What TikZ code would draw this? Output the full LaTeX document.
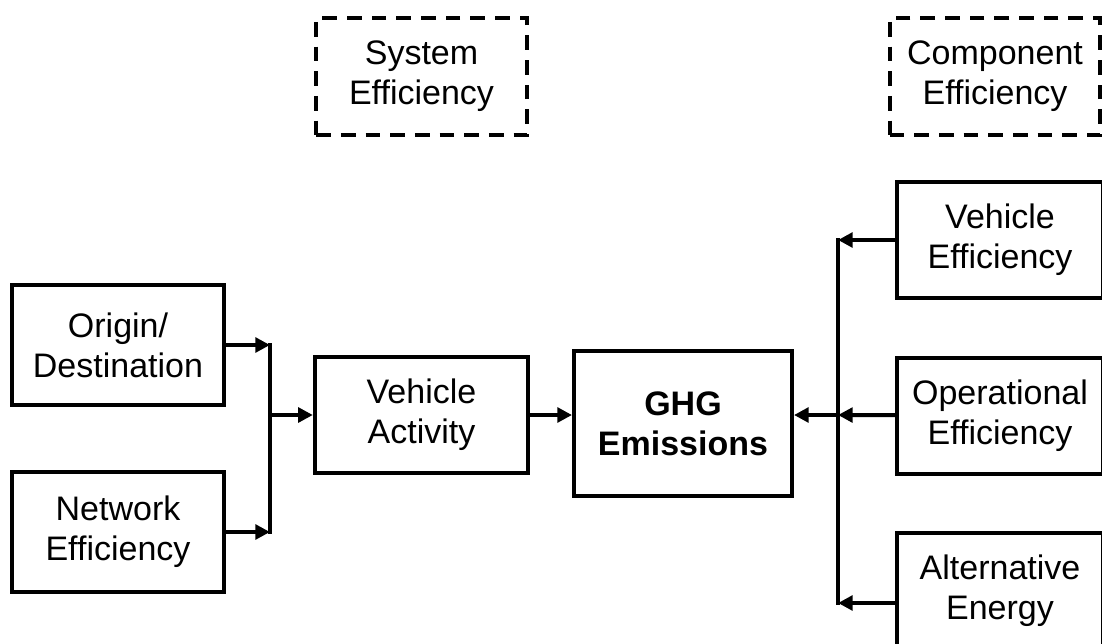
\documentclass[tikz,border=0pt]{standalone}
\usepackage{fontspec}
\setmainfont{Liberation Sans}
\usetikzlibrary{arrows.meta}
\tikzset{blk/.style={draw, rectangle, line width=3pt, inner sep=0pt, align=center, font=\fontsize{25.5}{30}\selectfont}}
\tikzset{dblk/.style={blk, dash pattern=on 11pt off 7.5pt}}
\tikzset{flow/.style={line width=3pt, -{Triangle[length=11pt,width=11pt]}}}
\tikzset{bus/.style={line width=3pt, line cap=rect}}

\begin{document}
\begin{tikzpicture}[x=0.75pt, y=-0.75pt]
		\useasboundingbox (0,0) rectangle (1102,643);
		
		% left side
		\node[blk, minimum width=159pt, minimum height=90pt] (od) at (118,345) {Origin/\\Destination};
		\node[blk, minimum width=159pt, minimum height=90pt] (ne) at (118,532) {Network\\Efficiency};
		\node[blk, minimum width=160pt, minimum height=87pt] (va) at (421.5,415) {Vehicle\\Activity};
		\node[blk, minimum width=163.5pt, minimum height=109pt, font=\fontsize{25.5}{30}\selectfont\bfseries] (ghg) at (683,423.5) {GHG\\Emissions};
		
		% efficiency groups
		\node[dblk, minimum width=158pt, minimum height=88pt] (se) at (421.5,76.5) {System\\Efficiency};
		\node[dblk, minimum width=158pt, minimum height=88pt] (ce) at (995,76.5) {Component\\Efficiency};
		
		% right side
		\node[blk, minimum width=154.5pt, minimum height=87pt] (ve) at (1000,240) {Vehicle\\Efficiency};
		\node[blk, minimum width=154.5pt, minimum height=87pt] (oe) at (1000,415.5) {Operational\\Efficiency};
		\node[blk, minimum width=154.5pt, minimum height=87pt] (ae) at (1000,591) {Alternative\\Energy};
		
		\coordinate (jl) at (270,415);
		\coordinate (jr) at (838,415);
		\coordinate (ja) at (838,603);
		
		\draw[flow] (od) -- (od -| jl);
		\draw[flow] (ne) -- (ne -| jl);
		\draw[bus] (od -| jl) -- (ne -| jl);
		\draw[flow] (jl) -- (va);
		\draw[flow] (va) -- (va -| ghg.west);
		
		\draw[flow] (ve) -- (ve -| jr);
		\draw[flow] (oe) -- (jr);
		\draw[flow] (ae.west |- ja) -- (ja);
		\draw[bus] (ve -| jr) -- (ja);
		\draw[flow] (jr) -- (jr -| ghg.east);
\end{tikzpicture}
\end{document}
